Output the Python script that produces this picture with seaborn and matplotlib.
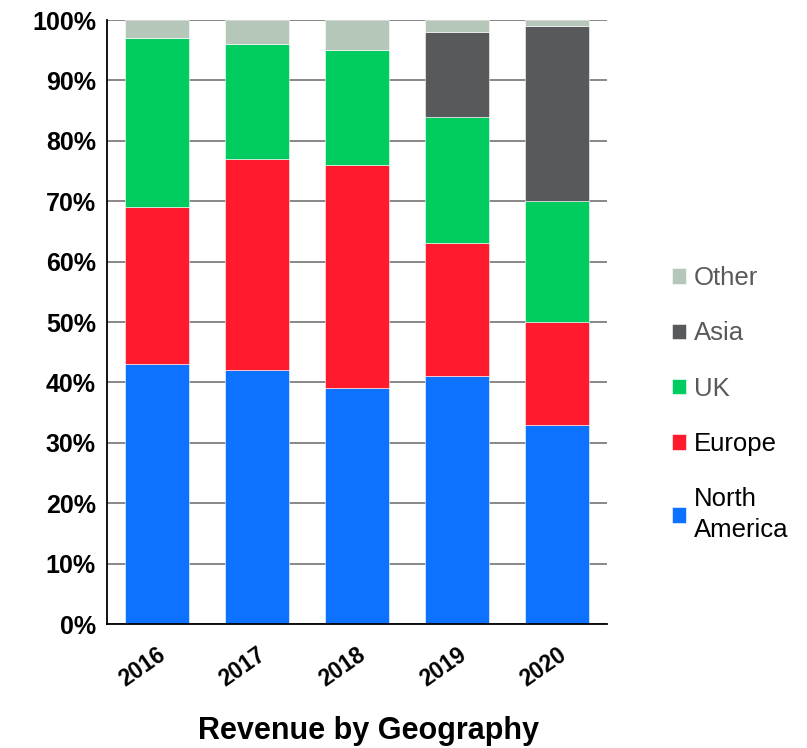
import numpy as np
import matplotlib
matplotlib.use('Agg')
import matplotlib.pyplot as plt
import seaborn as sns

# datos (porcentaje por region)
years = ['2016', '2017', '2018', '2019', '2020']
north_america = [43, 42, 39, 41, 33]
europe = [26, 35, 37, 22, 17]
uk = [28, 19, 19, 21, 20]
asia = [0, 0, 0, 14, 29]
other = [3, 4, 5, 2, 1]

series = [
    ('North\nAmerica', north_america, '#0d72ff'),
    ('Europe', europe, '#ff1a2e'),
    ('UK', uk, '#00cc5f'),
    ('Asia', asia, '#58595b'),
    ('Other', other, '#b5c7b9'),
]

sns.set_style('white')
plt.rcParams['font.family'] = ['Liberation Sans', 'DejaVu Sans']
plt.rcParams['text.color'] = 'black'
plt.rcParams['xtick.color'] = 'black'
plt.rcParams['ytick.color'] = 'black'

fig = plt.figure(figsize=(8.07, 7.48), dpi=100)
ax = fig.add_axes([107 / 807, 1 - 624 / 748, 500 / 807, 604 / 748])

bottom = np.zeros(len(years))
for name, vals, col in series:
    sns.barplot(x=years, y=vals, bottom=bottom, color=col, width=0.64, saturation=1,
                edgecolor='white', linewidth=0.4, label=name, ax=ax)
    bottom = bottom + np.array(vals)

ax.set_ylim(0, 100)
ax.set_xlim(-0.5, 4.5)
ax.set_yticks(range(0, 101, 10))
ax.set_yticklabels([f'{v}%' for v in range(0, 101, 10)], fontsize=18, fontweight='bold')
ax.set_xticks(range(len(years)))
ax.set_xticklabels(years, fontsize=16.5, fontweight='bold', rotation=35,
                   ha='right', rotation_mode='anchor')
ax.tick_params(axis='both', length=0, pad=8)
ax.tick_params(axis='x', pad=14)
ax.set_xlabel('')
ax.set_ylabel('')

ax.yaxis.grid(True, color='#7f7f7f', linewidth=1.3)
ax.set_axisbelow(True)
for s in ['top', 'right']:
    ax.spines[s].set_visible(False)
for s in ['left', 'bottom']:
    ax.spines[s].set_color('black')
    ax.spines[s].set_linewidth(1.3)

handles, labels = ax.get_legend_handles_labels()
leg = ax.legend(handles[::-1], labels[::-1], loc='upper left',
                bbox_to_anchor=(672 / 807, 1 - 266 / 748), bbox_transform=fig.transFigure,
                frameon=False, fontsize=18.5, handlelength=0.55, handleheight=0.55,
                handletextpad=0.3, labelspacing=1.22, borderpad=0, borderaxespad=0)
for t in leg.get_texts():
    t.set_linespacing(1.35)
    if t.get_text() in ('Other', 'Asia', 'UK'):
        t.set_color('#595959')
    else:
        t.set_color('black')

fig.text(369 / 807, 1 - 731 / 748, 'Revenue by Geography', ha='center', va='center',
         fontsize=22, fontweight='bold')

plt.savefig('out.png', dpi=100)
plt.close()
